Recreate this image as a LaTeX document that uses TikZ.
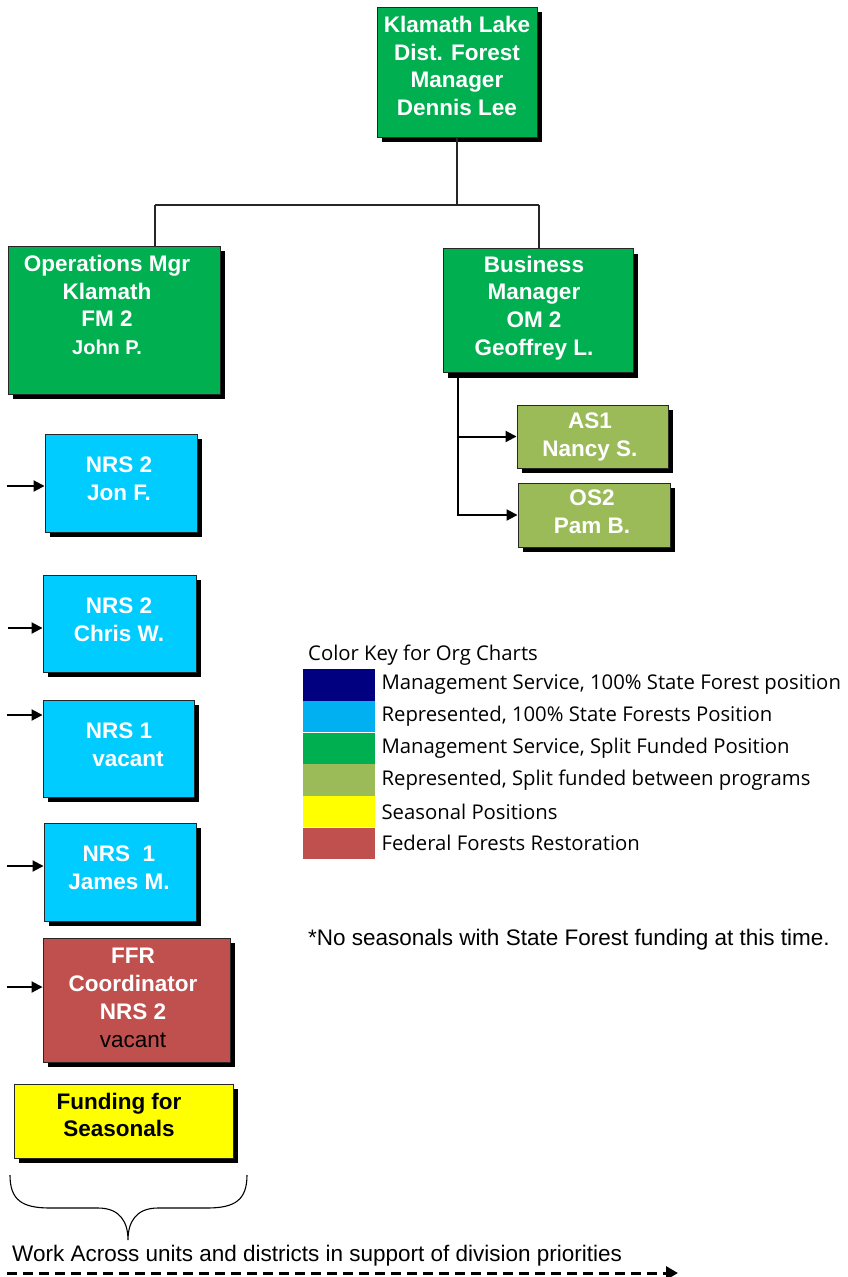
\documentclass[tikz,border=0pt]{standalone}
\usepackage{fontspec}
\setmainfont{Liberation Sans}
\newfontfamily\keyfont{Open Sans}
\usetikzlibrary{arrows.meta,shadows}
\definecolor{mgreen}{HTML}{00B050}
\definecolor{nrsblue}{HTML}{00CCFF}
\definecolor{keyblue}{HTML}{00B0F0}
\definecolor{olive}{HTML}{9BBB59}
\definecolor{ffrred}{HTML}{C0504D}
\definecolor{navy}{HTML}{000080}
\definecolor{seasyellow}{HTML}{FFFF00}
\tikzset{
  box/.style={draw=black!85, line width=0.9pt, inner sep=0pt,
    drop shadow={shadow xshift=5pt, shadow yshift=-5pt, fill=black, opacity=1}},
  btext/.style={align=center, text=white, inner sep=0pt,
    font=\bfseries\fontsize{22.5}{27.8}\selectfont},
  conn/.style={line width=1.2pt, draw=black!85},
  arr/.style={line width=2pt, draw=black, -{Triangle[length=11pt,width=11pt]}},
  keysw/.style={minimum width=72pt, minimum height=31.3pt, inner sep=0pt, draw=none},
  keytx/.style={anchor=west, inner sep=0pt, font=\keyfont\fontsize{20.3}{22}\selectfont},
  plaintx/.style={anchor=west, inner sep=0pt, font=\fontsize{22.5}{26}\selectfont},
}
\begin{document}
\begin{tikzpicture}[x=1pt,y=-1pt]
\useasboundingbox (0,0) rectangle (848,1277);

% boxes
\node[box, fill=mgreen, minimum width=160pt, minimum height=130pt] (top) at (457,72) {};
\node[btext] (topT) at (457,66) {Klamath Lake\\Dist. Forest\\Manager\\Dennis Lee};

\node[box, fill=mgreen, minimum width=212pt, minimum height=148pt] (ops) at (114,320) {};
\node[btext] (opsT) at (107,305) {Operations Mgr\\Klamath\\FM 2\\{\fontsize{20}{26}\selectfont John P.}};

\node[box, fill=mgreen, minimum width=190pt, minimum height=124pt] (bus) at (538,310.5) {};
\node[btext] (busT) at (534,308) {Business\\Manager\\OM 2\\Geoffrey L.};

\node[box, fill=olive, minimum width=151pt, minimum height=63pt] (as1) at (592.5,436.5) {};
\node[btext] (as1T) at (590,437) {AS1\\Nancy S.};

\node[box, fill=olive, minimum width=152pt, minimum height=64pt] (os2) at (594,515) {};
\node[btext] (os2T) at (592,511.5) {OS2\\Pam B.};

\node[box, fill=nrsblue, minimum width=152pt, minimum height=98pt] (nrsA) at (121,483) {};
\node[btext] (nrsAT) at (119,479) {NRS 2\\Jon F.};

\node[box, fill=nrsblue, minimum width=153pt, minimum height=97pt] (nrsB) at (119.5,623.5) {};
\node[btext] (nrsBT) at (119,620) {NRS 2\\Chris W.};

\node[box, fill=nrsblue, minimum width=151pt, minimum height=97pt] (nrsC) at (118.5,748.5) {};
\node[btext] (nrsCT) at (119,745) {NRS 1\\\hspace*{18pt}vacant};

\node[box, fill=nrsblue, minimum width=152pt, minimum height=98pt] (nrsD) at (120,872) {};
\node[btext] (nrsDT) at (119,868) {NRS\ \ 1\\James M.};

\node[box, fill=ffrred, minimum width=187pt, minimum height=124pt] (ffr) at (136.5,1000) {};
\node[btext] (ffrT) at (133,998) {FFR\\Coordinator\\NRS 2\\{\color{black}\mdseries vacant}};

\node[box, fill=seasyellow, minimum width=219pt, minimum height=74pt] (fund) at (123.5,1121) {};
\node[btext, text=black] (fundT) at (119,1115) {Funding for\\Seasonals};

% connectors top
\coordinate (jM) at (457,205);
\coordinate (jL) at (155,205);
\coordinate (jR) at (539,205);
\draw[conn] (top.south) -- (jM);
\draw[conn] (jL) -- (jR);
\draw[conn] (jL) -- (jL |- ops.north);
\draw[conn] (jR) -- (jR |- bus.north);

% business to AS1 / OS2
\coordinate (bS) at (458,373);
\draw[arr] (bS) |- (as1.west);
\draw[arr] (bS) |- (os2.west);

% left arrows
\coordinate (lA) at (7,486);
\coordinate (lB) at (8,628);
\coordinate (lC) at (7,715);
\coordinate (lD) at (7,866);
\coordinate (lE) at (7,987);
\draw[arr] (lA) -- (lA -| nrsA.west);
\draw[arr] (lB) -- (lB -| nrsB.west);
\draw[arr] (lC) -- (lC -| nrsC.west);
\draw[arr] (lD) -- (lD -| nrsD.west);
\draw[arr] (lE) -- (lE -| ffr.west);

% brace
\coordinate (brL) at (10,1175);
\coordinate (brT) at (128,1240);
\coordinate (brR) at (247,1175);
\draw[line width=1.1pt] (brL) .. controls (10,1200) and (22,1208) .. (50,1208)
  -- (98,1208) .. controls (120,1208) and (128,1222) .. (brT)
  .. controls (128,1222) and (136,1208) .. (158,1208)
  -- (207,1208) .. controls (235,1208) and (247,1200) .. (brR);

% bottom text and dashed arrow
\node[plaintx] (work) at (12,1256) {Work Across units and districts in support of division priorities};
\coordinate (dA) at (7,1273);
\coordinate (dB) at (678,1273);
\draw[line width=3pt, dash pattern=on 10pt off 6pt, -{Triangle[length=12pt,width=13pt]}] (dA) -- (dB);

% note
\node[plaintx] (note) at (308,940) {*No seasonals with State Forest funding at this time.};

% legend
\node[keytx] (keyT) at (308,655) {Color Key for Org Charts};
\node[keysw, fill=navy, anchor=north west] (k1) at (303,669) {};
\node[keysw, fill=keyblue, anchor=north] (k2) at (k1.south) {};
\node[keysw, fill=mgreen, anchor=north] (k3) at (k2.south) {};
\node[keysw, fill=olive, anchor=north] (k4) at (k3.south) {};
\node[keysw, fill=seasyellow, anchor=north] (k5) at (k4.south) {};
\node[keysw, fill=ffrred, anchor=north] (k6) at (k5.south) {};
\node[keytx] (t1) at ([xshift=6pt]k1.east) {Management Service, 100\% State Forest position};
\node[keytx] (t2) at ([xshift=6pt]k2.east) {Represented, 100\% State Forests Position};
\node[keytx] (t3) at ([xshift=6pt]k3.east) {Management Service, Split Funded Position};
\node[keytx] (t4) at ([xshift=6pt]k4.east) {Represented, Split funded between programs};
\node[keytx] (t5) at ([xshift=6pt]k5.east) {Seasonal Positions};
\node[keytx] (t6) at ([xshift=6pt]k6.east) {Federal Forests Restoration};
\end{tikzpicture}
\end{document}
